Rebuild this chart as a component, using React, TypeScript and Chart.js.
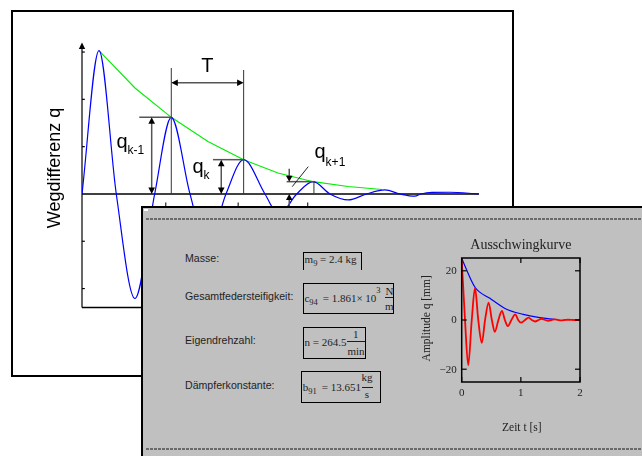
import React, { useEffect, useRef } from "react";
import { Chart, registerables } from "chart.js";

Chart.register(...registerables);

// ---------- Prinzipskizze: gedämpfte Schwingung (Zeit in Halbperioden, Weg in Einheiten) ----------
const skizzeT = [0, 0.471, 0.95, 1.468, 2.014, 2.474, 2.992, 3.463, 3.989, 4.479, 5.069, 5.457, 5.947, 6.407, 6.87, 7.377, 7.886, 8.393, 8.809, 9.224, 9.39, 9.7, 10.19, 10.98];
const skizzeQ = [0, 3.03, 0, -2.21, 0, 1.62, 0, -1.12, 0, 0.725, 0, -0.44, 0, 0.26, 0, -0.127, 0, 0.085, 0, -0.047, 0, 0.034, 0.036, 0];
const huellT = [0.471, 1.468, 2.474, 3.49, 4.479, 5.43, 6.407, 7.37, 8.31];
const huellQ = [3.03, 2.24, 1.62, 1.11, 0.725, 0.444, 0.26, 0.159, 0.095];
const skizzeYTicks = [-2, -1, 1, 2, 3];
const skizzeTitel = "Wegdifferenz q";
const periodeLabel = "T";
const qLabels = ["q", "k-1", "k", "k+1"];
// indices of the peaks q_{k-1}, q_k, q_{k+1} in skizzeT/skizzeQ
const peakIdx = [5, 9, 13];

// ---------- Ausschwingkurve ----------
const zeitS = [0, 0.056, 0.11, 0.17, 0.225, 0.28, 0.34, 0.395, 0.455, 0.51, 0.56, 0.62, 0.68, 0.73, 0.78, 0.84, 0.905, 0.955, 1.0, 1.07, 1.13, 1.185, 1.24, 1.3, 1.35, 1.41, 1.46, 1.52, 1.57, 1.63, 1.68, 1.74, 1.8, 1.9, 2.0];
const amplitudeMm = [24.5, 0, -18.4, 0, 13, 0, -9.3, 0, 7.1, 0, -4.8, 0, 3.7, 0, -2.5, 0, 2.3, 0, -1.1, 0, 1.0, 0, -0.6, 0, 0.5, 0, -0.3, 0, 0.25, 0, -0.15, 0, 0.1, 0, 0];
const huellZeitS = [0, 0.225, 0.477, 0.758, 1.04, 1.32, 1.57];
const huellAmplitudeMm = [25, 13.3, 8.8, 4.35, 2.3, 0.95, 0.3];
const zeitTicks = [0, 1, 2];
const ampTicks = [-20, 0, 20];
const insetTitel = "Ausschwingkurve";
const insetXTitel = "Zeit t [s]";
const insetYTitel = "Amplitude q [mm]";

// ---------- Parameter-Texte ----------
const paramLabels = ["Masse:", "Gesamtfedersteifigkeit:", "Eigendrehzahl:", "Dämpferkonstante:"];

const SERIF = '"Liberation Serif","Times New Roman",serif';
const SANS = '"Liberation Sans",Arial,sans-serif';

function seg(ctx: CanvasRenderingContext2D, x1: number, y1: number, x2: number, y2: number) {
  ctx.beginPath();
  ctx.moveTo(x1, y1);
  ctx.lineTo(x2, y2);
  ctx.stroke();
}
function head(ctx: CanvasRenderingContext2D, tx: number, ty: number, dx: number, dy: number, len = 6.5, hw = 3.3) {
  const bx = tx - dx * len, by = ty - dy * len;
  const nx = -dy, ny = dx;
  ctx.beginPath();
  ctx.moveTo(tx, ty);
  ctx.lineTo(bx + nx * hw, by + ny * hw);
  ctx.lineTo(bx - nx * hw, by - ny * hw);
  ctx.closePath();
  ctx.fill();
}

const skizzePlugin = {
  id: "skizze",
  beforeDatasetsDraw(chart: any) {
    const { ctx, chartArea: a, scales } = chart;
    const y = scales.y;
    const y0 = y.getPixelForValue(0);
    ctx.save();
    ctx.strokeStyle = "#000";
    ctx.fillStyle = "#000";
    ctx.lineWidth = 1.2;
    seg(ctx, a.left, a.bottom, a.left, a.top + 4);
    head(ctx, a.left, a.top - 1.5, 0, -1, 6.5, 3.2);
    for (const v of skizzeYTicks) {
      const py = y.getPixelForValue(v);
      seg(ctx, a.left, py, a.left + 2.8, py);
    }
    ctx.lineWidth = 1.4;
    seg(ctx, a.left, a.bottom, a.right, a.bottom);
    seg(ctx, a.left, y0, a.right, y0);
    ctx.restore();
  },
  afterDatasetsDraw(chart: any) {
    const { ctx, scales } = chart;
    const x = scales.x, y = scales.y;
    const y0 = y.getPixelForValue(0);
    const P = peakIdx.map((i) => ({ x: x.getPixelForValue(skizzeT[i]), y: y.getPixelForValue(skizzeQ[i]) }));
    const [P2, P3, P4] = P;
    ctx.save();
    ctx.fillStyle = "#000";
    // extension lines for T
    ctx.strokeStyle = "#333";
    ctx.lineWidth = 1;
    seg(ctx, P2.x, y0, P2.x, 68);
    seg(ctx, P3.x, y0, P3.x, 70);
    // T dimension
    const ty = 82.7;
    ctx.strokeStyle = "#555";
    ctx.lineWidth = 1.5;
    seg(ctx, P2.x + 5, ty, P3.x - 5, ty);
    head(ctx, P2.x, ty, -1, 0);
    head(ctx, P3.x, ty, 1, 0);
    // q_{k-1}
    seg(ctx, P2.x - 32, P2.y, P2.x, P2.y);
    let ax = P2.x - 19.6;
    seg(ctx, ax, P2.y + 5, ax, y0 - 5);
    head(ctx, ax, P2.y, 0, -1);
    head(ctx, ax, y0, 0, 1);
    // q_k
    seg(ctx, P3.x - 30.7, P3.y, P3.x, P3.y);
    ax = P3.x - 22.4;
    seg(ctx, ax, P3.y + 5, ax, y0 - 5);
    head(ctx, ax, P3.y, 0, -1);
    head(ctx, ax, y0, 0, 1);
    // q_{k+1}
    seg(ctx, P4.x - 26.6, P4.y, P4.x + 1.5, P4.y);
    ctx.lineWidth = 1;
    ctx.strokeStyle = "#333";
    seg(ctx, P4.x + 0.7, P4.y, P4.x + 0.7, y0);
    ctx.strokeStyle = "#555";
    ctx.lineWidth = 1.5;
    ax = P4.x - 24;
    seg(ctx, ax, P4.y - 13, ax, P4.y - 5);
    head(ctx, ax, P4.y, 0, 1, 6, 3.3);
    seg(ctx, ax, y0 + 5, ax, y0 + 14);
    head(ctx, ax, y0, 0, -1, 6, 3.3);
    ctx.strokeStyle = "#222";
    ctx.lineWidth = 1;
    seg(ctx, P4.x - 21, P4.y + 5, P4.x - 5, P4.y - 15);
    // small marks below the zero line
    ctx.strokeStyle = "#000";
    for (const p of P) seg(ctx, p.x - 5.5, y0 + 8.5, p.x - 5.5, y0 + 13);

    // texts
    ctx.fillStyle = "#000";
    ctx.textBaseline = "alphabetic";
    ctx.font = `18px ${SANS}`;
    ctx.save();
    ctx.translate(60, 168);
    ctx.rotate(-Math.PI / 2);
    ctx.textAlign = "center";
    ctx.fillText(skizzeTitel, 0, 0);
    ctx.restore();
    ctx.textAlign = "center";
    ctx.font = `20px ${SANS}`;
    ctx.fillText(periodeLabel, (P2.x + P3.x) / 2, 72);
    ctx.textAlign = "left";
    const q = (bx: number, by: number, sub: string, sby: number) => {
      ctx.font = `20px ${SANS}`;
      ctx.fillText(qLabels[0], bx, by);
      const w = ctx.measureText(qLabels[0]).width;
      ctx.font = `12px ${SANS}`;
      ctx.fillText(sub, bx + w, sby);
    };
    q(116.5, 148, qLabels[1], 153.5);
    q(192.5, 173, qLabels[2], 179);
    q(314.5, 158, qLabels[3], 166);
    ctx.restore();
  },
};

const insetPlugin = {
  id: "inset",
  afterDatasetsDraw(chart: any) {
    const { ctx, chartArea: a, scales } = chart;
    const x = scales.x, y = scales.y;
    ctx.save();
    ctx.strokeStyle = "#000";
    ctx.lineWidth = 1.5;
    ctx.strokeRect(a.left, a.top, a.right - a.left, a.bottom - a.top);
    ctx.lineWidth = 1.2;
    for (const v of zeitTicks) {
      const px = x.getPixelForValue(v);
      seg(ctx, px, a.top, px, a.top + 5);
      seg(ctx, px, a.bottom, px, a.bottom - 5);
    }
    for (const v of ampTicks) {
      const py = y.getPixelForValue(v);
      seg(ctx, a.left, py, a.left + 5, py);
      seg(ctx, a.right, py, a.right - 5, py);
    }
    ctx.fillStyle = "#222";
    ctx.font = `11px ${SERIF}`;
    ctx.textAlign = "right";
    ctx.textBaseline = "middle";
    for (const v of ampTicks) {
      ctx.fillText(v < 0 ? "\u2212" + Math.abs(v) : String(v), a.left - 5, y.getPixelForValue(v) + 0.5);
    }
    ctx.textAlign = "center";
    ctx.textBaseline = "alphabetic";
    for (const v of zeitTicks) ctx.fillText(String(v), x.getPixelForValue(v), 395.5);
    const cx = (a.left + a.right) / 2;
    ctx.font = `14px ${SERIF}`;
    ctx.fillText(insetTitel, cx, 249);
    ctx.font = `11.5px ${SERIF}`;
    ctx.fillText(insetXTitel, cx + 1, 431);
    ctx.save();
    ctx.translate(429.5, 318.3);
    ctx.rotate(-Math.PI / 2);
    ctx.fillText(insetYTitel, 0, 0);
    ctx.restore();
    ctx.restore();
  },
};

function Txt(props: { x: number; y: number; size: number; serif?: boolean; center?: boolean; children: any }) {
  const { x, y, size, serif, center, children } = props;
  const k = serif ? 0.8375 : 0.8465;
  return (
    <span
      style={{
        position: "absolute",
        left: x,
        top: y - k * size,
        fontSize: size,
        lineHeight: `${size}px`,
        fontFamily: serif ? SERIF : SANS,
        color: "#1e1e1e",
        whiteSpace: "pre",
        transform: center ? "translateX(-50%)" : undefined,
      }}
    >
      {children}
    </span>
  );
}

function Box(props: { l: number; t: number; r: number; b: number; open?: boolean }) {
  const { l, t, r, b, open } = props;
  return (
    <div
      style={{
        position: "absolute",
        left: l - 0.75,
        top: t - 0.75,
        width: r - l + 1.5,
        height: b - t + 1.5,
        boxSizing: "border-box",
        border: "1.5px solid #000",
        borderBottom: open ? "none" : "1.5px solid #000",
      }}
    />
  );
}

function Bar(props: { x1: number; x2: number; y: number }) {
  return <div style={{ position: "absolute", left: props.x1, top: props.y - 0.5, width: props.x2 - props.x1, height: 1, background: "#1e1e1e" }} />;
}

function Dashed(props: { y: number }) {
  return (
    <div
      style={{
        position: "absolute",
        left: 146,
        top: props.y - 1,
        width: 496,
        height: 2,
        background: "repeating-linear-gradient(90deg, #6a6a6a 0px, #6a6a6a 3px, transparent 3px, transparent 4px)",
      }}
    />
  );
}

export default function App() {
  const bgRef = useRef<HTMLCanvasElement>(null);
  const inRef = useRef<HTMLCanvasElement>(null);

  useEffect(() => {
    const bg = new Chart(bgRef.current!, {
      type: "line",
      data: {
        datasets: [
          {
            data: skizzeT.map((t, i) => ({ x: t, y: skizzeQ[i] })),
            borderColor: "#0000ff",
            borderWidth: 1.2,
            pointRadius: 0,
            cubicInterpolationMode: "monotone",
            fill: false,
          },
          {
            data: huellT.map((t, i) => ({ x: t, y: huellQ[i] })),
            borderColor: "#00ee00",
            borderWidth: 1.1,
            pointRadius: 0,
            tension: 0,
            fill: false,
          },
        ],
      },
      options: {
        responsive: false,
        animation: false,
        devicePixelRatio: 1,
        layout: { padding: { left: 82, top: 44, right: 642 - 479, bottom: 456 - 307.5 } },
        scales: {
          x: { type: "linear", min: 0, max: 11, display: false },
          y: { type: "linear", min: -2.4, max: 3.17, display: false },
        },
        plugins: { legend: { display: false }, tooltip: { enabled: false }, title: { display: false } },
      } as any,
      plugins: [skizzePlugin],
    });

    const inset = new Chart(inRef.current!, {
      type: "line",
      data: {
        datasets: [
          {
            data: zeitS.map((t, i) => ({ x: t, y: amplitudeMm[i] })),
            borderColor: "#ff0000",
            borderWidth: 1.8,
            pointRadius: 0,
            cubicInterpolationMode: "monotone",
            fill: false,
          },
          {
            data: huellZeitS.map((t, i) => ({ x: t, y: huellAmplitudeMm[i] })),
            borderColor: "#0000ff",
            borderWidth: 1.2,
            pointRadius: 0,
            cubicInterpolationMode: "monotone",
            fill: false,
          },
        ],
      },
      options: {
        responsive: false,
        animation: false,
        devicePixelRatio: 1,
        layout: { padding: { left: 461.7, top: 258, right: 642 - 580, bottom: 456 - 382 } },
        scales: {
          x: { type: "linear", min: 0, max: 2, display: false },
          y: { type: "linear", min: -25.2, max: 25.2, display: false },
        },
        plugins: { legend: { display: false }, tooltip: { enabled: false }, title: { display: false } },
      } as any,
      plugins: [insetPlugin],
    });

    return () => {
      bg.destroy();
      inset.destroy();
    };
  }, []);

  return (
    <div style={{ position: "absolute", left: 0, top: 0, width: 642, height: 456, background: "#fff", overflow: "hidden" }}>
      <div style={{ position: "absolute", left: 11, top: 10, width: 503, height: 367, boxSizing: "border-box", border: "2px solid #000", background: "#fff" }} />
      <canvas ref={bgRef} width={642} height={456} style={{ position: "absolute", left: 0, top: 0, width: 642, height: 456 }} />

      <div style={{ position: "absolute", left: 141, top: 206, width: 501, height: 250, boxSizing: "border-box", background: "#c0c0c0", borderLeft: "2px solid #000", borderTop: "2px solid #000" }} />
      <div style={{ position: "absolute", left: 144, top: 209, width: 4, height: 1.5, background: "#fff" }} />
      <Dashed y={219} />
      <Dashed y={449.3} />

      <Txt x={185} y={262} size={10.6}>{paramLabels[0]}</Txt>
      <Txt x={185} y={300} size={10.6}>{paramLabels[1]}</Txt>
      <Txt x={185} y={344} size={10.6}>{paramLabels[2]}</Txt>
      <Txt x={185} y={389} size={10.6}>{paramLabels[3]}</Txt>

      {/* m9 */}
      <Box l={303.3} t={252.3} r={361} b={269.3} open />
      <Txt x={304.5} y={263.3} size={11} serif>m</Txt>
      <Txt x={313.2} y={266.5} size={8.5} serif>9</Txt>
      <Txt x={320} y={263.3} size={11} serif>= 2.4 kg</Txt>

      {/* c94 */}
      <Box l={303.3} t={283.3} r={393.3} b={313.3} />
      <Txt x={304.5} y={302} size={11} serif>c</Txt>
      <Txt x={309.2} y={305.3} size={8.5} serif>94</Txt>
      <Txt x={322.7} y={302} size={11} serif>= 1.861× 10</Txt>
      <Txt x={376.2} y={293} size={8.5} serif>3</Txt>
      <Txt x={389.5} y={295} size={11} serif center>N</Txt>
      <Bar x1={385} x2={393.3} y={297.7} />
      <Txt x={389.3} y={310} size={11} serif center>m</Txt>

      {/* n */}
      <Box l={303.3} t={327.3} r={365.7} b={358.3} />
      <Txt x={304.5} y={346.5} size={11} serif>n = 264.5</Txt>
      <Txt x={355.7} y={338.5} size={11} serif center>1</Txt>
      <Bar x1={346.7} x2={365} y={341.3} />
      <Txt x={356} y={355} size={11} serif center>min</Txt>

      {/* b91 */}
      <Box l={301.3} t={371.3} r={380.3} b={402.3} />
      <Txt x={302.8} y={391} size={11} serif>b</Txt>
      <Txt x={308.3} y={394.3} size={8.5} serif>91</Txt>
      <Txt x={321.7} y={391} size={11} serif>= 13.651</Txt>
      <Txt x={367} y={381.5} size={11} serif center>kg</Txt>
      <Bar x1={362} x2={372.5} y={387} />
      <Txt x={367} y={398.5} size={11} serif center>s</Txt>

      <canvas ref={inRef} width={642} height={456} style={{ position: "absolute", left: 0, top: 0, width: 642, height: 456, pointerEvents: "none" }} />
    </div>
  );
}
